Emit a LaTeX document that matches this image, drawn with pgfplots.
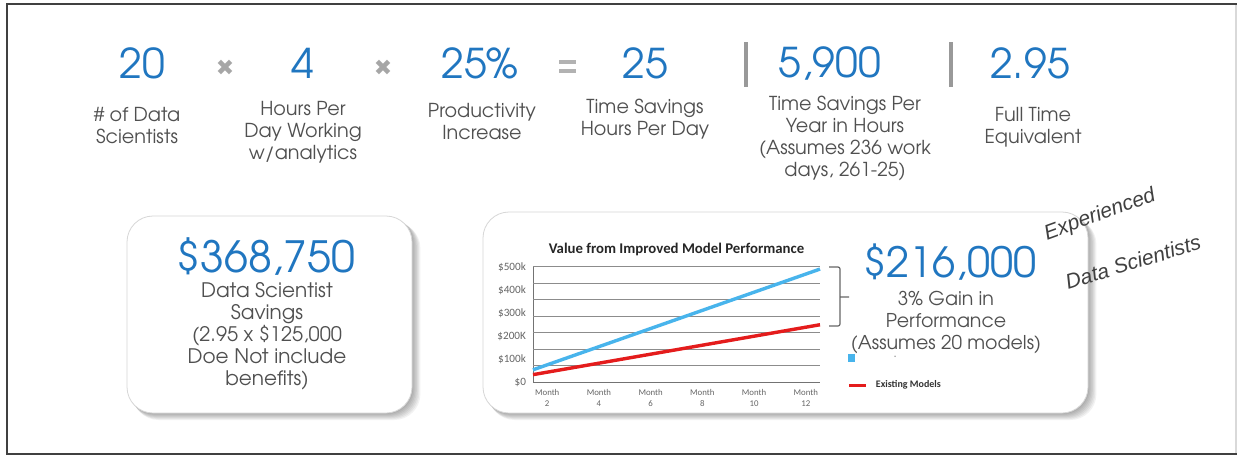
\documentclass[border=0pt]{standalone}
\usepackage{fontspec}
\setmainfont{TeX Gyre Adventor}
\newfontfamily\carlito{Carlito}
\newfontfamily\dejavu{DejaVu Sans}
\newfontfamily\hand{Liberation Sans}
\usepackage{pgfplots}
\pgfplotsset{compat=1.18}
\definecolor{numblue}{RGB}{32,118,192}
\definecolor{txtgray}{RGB}{80,80,80}
\definecolor{lineblue}{RGB}{72,180,236}
\definecolor{linered}{RGB}{228,28,28}
\definecolor{boxgray}{RGB}{215,215,215}
\begin{document}
\begin{tikzpicture}
\begin{scope}[x=0.5pt,y=-0.5pt,
  num/.style={text=numblue,font=\fontsize{20.5}{24}\selectfont,inner sep=0pt},
  lab/.style={text=txtgray,font=\fontsize{9.6}{11}\selectfont,align=center,inner sep=0pt},
  op/.style={text=black!35,font=\dejavu\fontsize{11}{12}\selectfont,inner sep=0pt}]
\path[use as bounding box] (0,0) rectangle (1237,455);
\fill[white] (0,0) rectangle (1237,455);
\draw[black!15,line width=0.6pt] (1236,4)--(1236,454);
\draw[black!75,line width=1.4pt] (7,455)--(7,4)--(1237,4);
\draw[black!75,line width=1.4pt] (7,454)--(1237,454);
% top row
\node[num] at (142,63) {20};
\node[op] at (225,68) {✖};
\node[num] at (303,63) {4};
\node[op] at (383,68) {✖};
\node[num] at (480,63) {25\%};
\draw[black!30,line width=2.2pt] (559,62)--(576,62) (559,71)--(576,71);
\node[num] at (645,63) {25};
\draw[black!40,line width=2pt] (746,42)--(746,87) (951,42)--(951,87);
\node[num] at (830,63) {5,900};
\node[num] at (1030,63) {2.95};
\node[lab] at (137,126) {\# of Data\\Scientists};
\node[lab] at (303,132) {Hours Per\\Day Working\\w/analytics};
\node[lab] at (482,121.5) {Productivity\\Increase};
\node[lab] at (645,119) {Time Savings\\Hours Per Day};
\node[lab] at (845,138) {Time Savings Per\\Year in Hours\\(Assumes 236 work\\days, 261-25)};
\node[lab] at (1033,127.5) {Full Time\\Equivalent};
% boxes with soft shadows
\foreach \s in {1,...,7}{
  \fill[black,opacity=0.05,rounded corners=13pt] (127+\s*0.8,216+\s*0.9) rectangle (412+\s*1.2,413+\s*1.0);
  \fill[black,opacity=0.05,rounded corners=13pt] (483+\s*0.8,212+\s*0.9) rectangle (1088+\s*1.2,413+\s*1.0);
}
\draw[boxgray,fill=white,rounded corners=13pt] (127,216) rectangle (412,413);
\draw[boxgray,fill=white,rounded corners=13pt] (483,212) rectangle (1088,413);
\node[text=numblue,font=\fontsize{21.5}{26}\selectfont,inner sep=0pt] at (266,257) {\$368,750};
\node[lab,font=\fontsize{10}{11}\selectfont] at (267,336) {Data Scientist\\Savings\\(2.95 x \$125,000\\Doe Not include\\benefits)};
\node[text=numblue,font=\fontsize{20.8}{26}\selectfont,inner sep=0pt] at (950,262) {\$216,000};
\node[lab,font=\fontsize{9.5}{11}\selectfont] at (946,322.5) {3\% Gain in\\Performance\\(Assumes 20 models)};
% bracket
\draw[black!60,line width=0.6pt,rounded corners=1pt] (829,267)--(840,267)--(840,326)--(829,326) (840,297)--(849,297);
% handwriting
\node[text=black!75,font=\hand\itshape\fontsize{10.5}{12}\selectfont,rotate=20,inner sep=0pt] at (1100,215) {Experienced};
\node[text=black!75,font=\hand\itshape\fontsize{10.5}{12}\selectfont,rotate=17,inner sep=0pt] at (1133,262) {Data Scientists};
\end{scope}
% chart
\begin{axis}[at={(266.5pt,-191pt)},anchor=south west,scale only axis,
  width=143.5pt,height=57.5pt,
  xmin=1.45,xmax=12.55,ymin=0,ymax=500,
  axis x line*=bottom, axis y line*=left,
  axis line style={black!55,line width=0.5pt,-},
  xtick={2,4,6,8,10,12},
  xticklabels={Month\\2,Month\\4,Month\\6,Month\\8,Month\\10,Month\\12},
  xticklabel style={align=center,font=\carlito\fontsize{4.4}{5.6}\selectfont,text=black!60},
  ytick={0,100,200,300,400,500},
  yticklabels={\$0,\$100k,\$200K,\$300k,\$400k,\$500k},
  yticklabel style={font=\carlito\fontsize{5.6}{6}\selectfont,text=black!60},
  major tick length=0pt,
  extra y ticks={71.43,142.86,214.29,285.71,357.14,428.57,500},
  extra y tick labels={},
  extra y tick style={grid=major},
  major grid style={black!45,line width=0.5pt},
  title={Value from Improved Model Performance},
  title style={font=\carlito\bfseries\fontsize{7.4}{8}\selectfont,text=black!85,yshift=-4pt},
  legend style={at={(1.095,0.265)},anchor=north west,draw=none,fill=none,
    font=\carlito\bfseries\fontsize{5}{5.5}\selectfont,text=black!80,row sep=6pt,
    inner sep=0pt,
    nodes={inner xsep=4pt}},
  legend cell align=left,
  clip=false]
\addplot[lineblue,line width=1.7pt,
  legend image code/.code={\fill[lineblue] (0pt,-1pt) rectangle (2.2pt,1.2pt);}]
  coordinates {(1.45,53) (12.55,491)};
\addlegendentry{\hspace{9pt}{\color{black!40}.}}
\addplot[linered,line width=1.7pt,
  legend image code/.code={\draw[linered,line width=1.5pt] (0pt,0pt)--(8.5pt,0pt);}]
  coordinates {(1.45,32) (12.55,249)};
\addlegendentry{Existing Models}
\end{axis}
\end{tikzpicture}
\end{document}
